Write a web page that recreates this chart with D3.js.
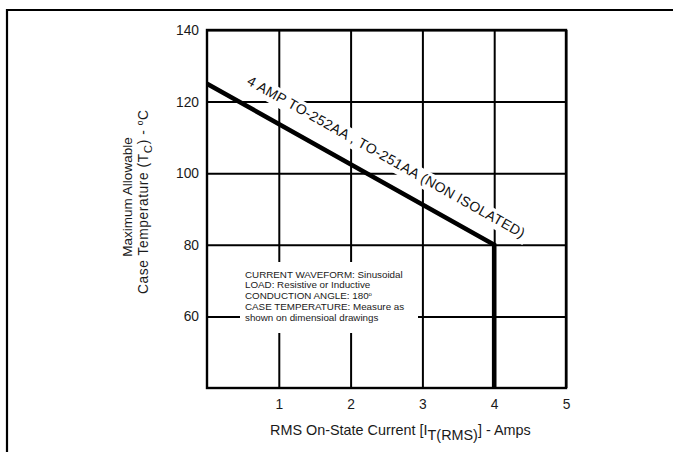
<!DOCTYPE html>
<html>
<head>
<meta charset="utf-8">
<script src="https://cdn.jsdelivr.net/npm/d3@7"></script>
<style>
  html, body { margin: 0; padding: 0; background: #fff; }
  svg { display: block; font-family: "Liberation Sans", Arial, Helvetica, sans-serif; }
</style>
</head>
<body>
<svg id="chart" width="673" height="452"></svg>
<script>
// ---- data ----
const xTicks = [1, 2, 3, 4, 5];
const yTicks = [60, 80, 100, 120, 140];
const xDomain = [0, 5];
const yDomain = [40, 140];
const curveCurrent = [0, 4, 4];        // Amps
const curveTemp = [125, 80, 40];       // degC
const curveLabel = "4 AMP TO-252AA , TO-251AA (NON ISOLATED)";
const noteLines = [
  "CURRENT WAVEFORM: Sinusoidal",
  "LOAD: Resistive or Inductive",
  "CONDUCTION ANGLE: 180",
  "CASE TEMPERATURE: Measure as",
  "shown on dimensioal drawings"
];

// ---- layout ----
const svg = d3.select("#chart");
const plot = { left: 207, top: 30, right: 566, bottom: 388 };
const W = plot.right - plot.left, H = plot.bottom - plot.top;
const x = d3.scaleLinear().domain(xDomain).range([plot.left, plot.right]);
const y = d3.scaleLinear().domain(yDomain).range([plot.bottom, plot.top]);

// outer frame (top + left only)
svg.append("path").attr("d", "M7,452V10H673")
  .attr("fill", "none").attr("stroke", "#000").attr("stroke-width", 2.2);

// grid via axes
const gx = svg.append("g").attr("transform", `translate(0,${plot.bottom})`)
  .call(d3.axisBottom(x).tickValues(xTicks).tickSize(-H).tickPadding(11).tickFormat(d3.format("d")));
const gy = svg.append("g").attr("transform", `translate(${plot.left},0)`)
  .call(d3.axisLeft(y).tickValues(yTicks).tickSize(-W).tickPadding(8).tickFormat(d3.format("d")));
[gx, gy].forEach(g => {
  g.select(".domain").remove();
  g.selectAll(".tick line").attr("stroke", "#000").attr("stroke-width", 2);
  g.selectAll(".tick text").attr("fill", "#1a1a1a").attr("font-size", 13.8)
    .attr("font-family", "'Liberation Sans', Arial, Helvetica, sans-serif");
});

// note box (white background)
const note = svg.append("g");
note.append("rect").attr("x", 240).attr("y", 262).attr("width", 178).attr("height", 71).attr("fill", "#fff");
const nt = note.append("text").attr("font-size", 9.8).attr("fill", "#1a1a1a");
noteLines.forEach((s, i) => {
  nt.append("tspan").attr("x", 245).attr("y", 277.7 + i * 10.7).text(s);
  if (i === 2) {
    nt.append("tspan").attr("font-size", 6).attr("dy", -3.5).text("o");
  }
});

// plot border
svg.append("rect").attr("x", plot.left).attr("y", plot.top).attr("width", W).attr("height", H)
  .attr("fill", "none").attr("stroke", "#000").attr("stroke-width", 2.4);

// curve label with white halo box
const p0 = [x(curveCurrent[0]), y(curveTemp[0])];
const p1 = [x(curveCurrent[1]), y(curveTemp[1])];
const ang = Math.atan2(p1[1] - p0[1], p1[0] - p0[0]) * 180 / Math.PI;
const lab = svg.append("g").attr("transform", `translate(${p0[0]},${p0[1]}) rotate(${ang})`);
const labLen = 316, labX = 34, labY = -19;
lab.append("rect").attr("x", labX - 4).attr("y", labY - 13).attr("width", labLen + 8).attr("height", 18.5)
  .attr("fill", "#fff");
lab.append("text").attr("x", labX).attr("y", labY).attr("font-size", 14).attr("fill", "#111")
  .attr("textLength", labLen).attr("lengthAdjust", "spacing").text(curveLabel);

// curve
const pts = curveCurrent.map((c, i) => [c, curveTemp[i]]);
svg.append("path").datum(pts)
  .attr("d", d3.line().x(d => x(d[0])).y(d => y(d[1])))
  .attr("fill", "none").attr("stroke", "#000").attr("stroke-width", 4.6).attr("stroke-linejoin", "miter");

// x axis title
const xt = svg.append("text").attr("x", 270).attr("y", 435).attr("font-size", 14.4).attr("fill", "#1a1a1a");
xt.append("tspan").text("RMS On-State Current [I");
xt.append("tspan").attr("dy", 5).text("T(RMS)");
xt.append("tspan").attr("dy", -5).text("] - Amps");

// y axis title
svg.append("text").attr("transform", "translate(131.5,197) rotate(-90)")
  .attr("text-anchor", "middle").attr("font-size", 13.5).attr("fill", "#1a1a1a").text("Maximum Allowable");
const yt2 = svg.append("text").attr("transform", "translate(147.5,202) rotate(-90)")
  .attr("text-anchor", "middle").attr("font-size", 13.8).attr("fill", "#1a1a1a")
  .attr("textLength", 184).attr("lengthAdjust", "spacing");
yt2.append("tspan").text("Case Temperature (T");
yt2.append("tspan").attr("dy", 4).attr("font-size", 11.5).text("C");
yt2.append("tspan").attr("dy", -4).text(") - ");
yt2.append("tspan").attr("dy", -5).attr("font-size", 8.5).text("o");
yt2.append("tspan").attr("dy", 5).text("C");
</script>
</body>
</html>
